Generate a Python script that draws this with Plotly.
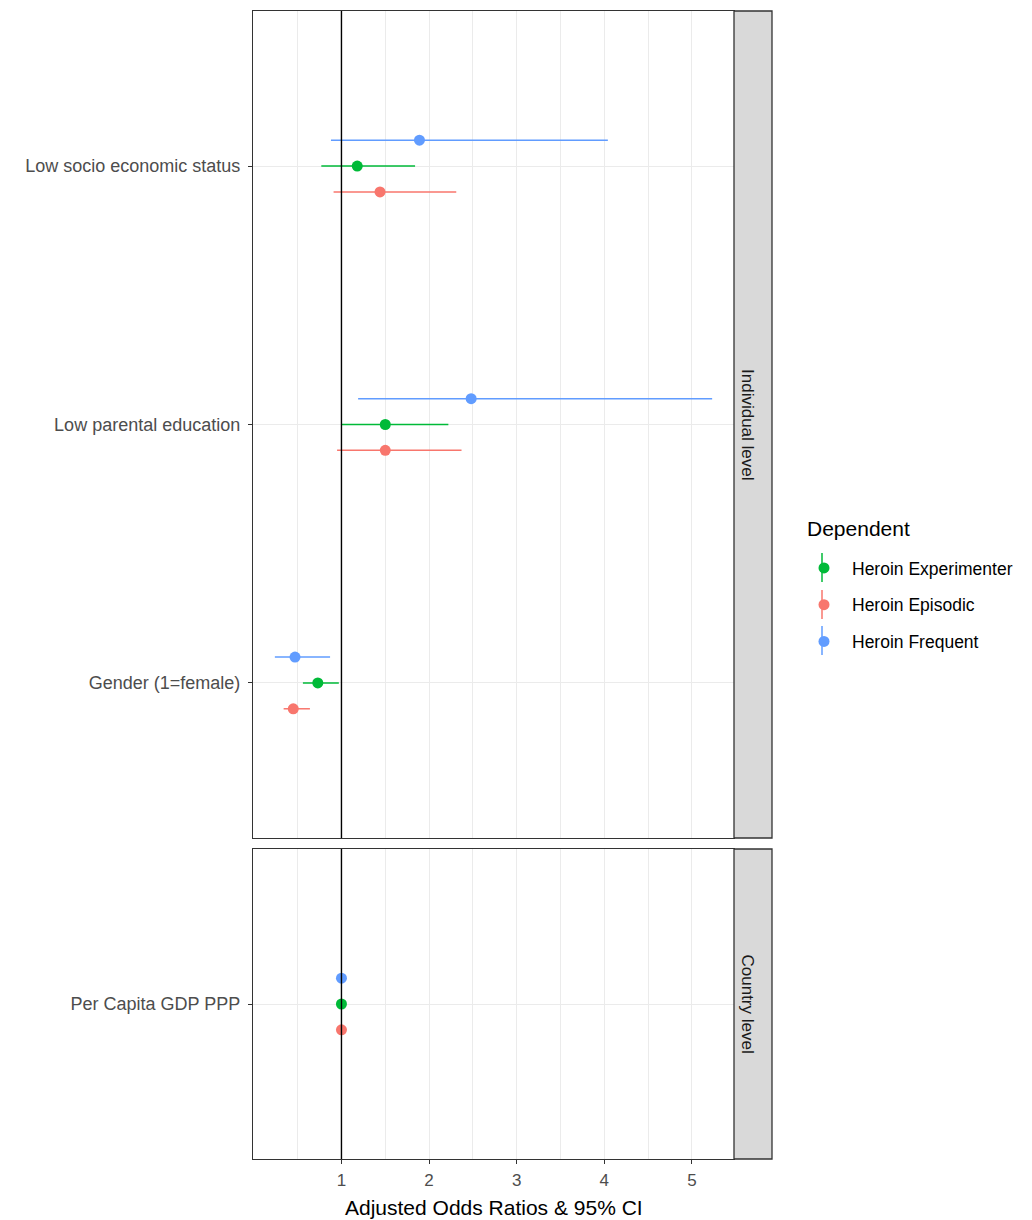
import plotly.graph_objects as go

# Model terms, ordered bottom-to-top within each facet
individual_terms = ["Gender (1=female)", "Low parental education", "Low socio economic status"]
country_terms = ["Per Capita GDP PPP"]
facet_labels = ["Individual level", "Country level"]

# Adjusted odds ratios and 95% CI: first three rows individual level, last row country level
dependents = ["Heroin Experimenter", "Heroin Episodic", "Heroin Frequent"]

exp_or = [0.73, 1.50, 1.18, 1.00]
exp_lo = [0.56, 1.00, 0.77, 0.99]
exp_hi = [0.97, 2.22, 1.84, 1.01]

epi_or = [0.45, 1.50, 1.44, 1.00]
epi_lo = [0.34, 0.95, 0.91, 0.99]
epi_hi = [0.64, 2.37, 2.31, 1.01]

fre_or = [0.47, 2.48, 1.89, 1.00]
fre_lo = [0.24, 1.19, 0.88, 0.99]
fre_hi = [0.87, 5.23, 4.04, 1.01]

x_ticks = [1, 2, 3, 4, 5]

colors = {"Heroin Experimenter": "#00BA38", "Heroin Episodic": "#F8766D", "Heroin Frequent": "#619CFF"}
dodge = {"Heroin Experimenter": 0.0, "Heroin Episodic": -0.1, "Heroin Frequent": 0.1}
series = {
    "Heroin Experimenter": (exp_or, exp_lo, exp_hi),
    "Heroin Episodic": (epi_or, epi_lo, epi_hi),
    "Heroin Frequent": (fre_or, fre_lo, fre_hi),
}

FONT = "Liberation Sans, Arial, sans-serif"
GRID = "#EBEBEB"
BORDER = "#333333"
n_ind = len(individual_terms)

fig = go.Figure()
for dep in dependents:
    est, lo, hi = series[dep]
    panels = [
        ("x", "y", slice(0, n_ind), len(individual_terms)),
        ("x2", "y2", slice(n_ind, None), len(country_terms)),
    ]
    for i, (xa, ya, sl, n) in enumerate(panels):
        e, l, h = est[sl], lo[sl], hi[sl]
        ypos = [k + 1 + dodge[dep] for k in range(n)]
        fig.add_trace(go.Scatter(
            x=e, y=ypos, xaxis=xa, yaxis=ya,
            mode="markers",
            name=dep, legendgroup=dep, showlegend=(i == 0),
            marker=dict(color=colors[dep], size=11),
            error_x=dict(type="data", symmetric=False,
                         array=[hh - ee for hh, ee in zip(h, e)],
                         arrayminus=[ee - ll for ee, ll in zip(e, l)],
                         color=colors[dep], thickness=1.5, width=0),
        ))

all_lo = exp_lo + epi_lo + fre_lo
all_hi = exp_hi + epi_hi + fre_hi
span = max(all_hi) - min(all_lo)
x_range = [min(all_lo) - 0.05 * span, max(all_hi) + 0.05 * span]
minor_vals = [t - 0.5 for t in x_ticks] + [x_ticks[-1] + 0.5]

# Plot area in pixels: x 253..734, panels y 11..838 and 849..1159
W, H = 1032, 1220
L, R, T, B = 253, 1032 - 734, 11, 1220 - 1159
ph = H - T - B
pw = W - L - R
top_dom = [(1159 - 838) / ph, 1.0]
bot_dom = [0.0, (1159 - 849) / ph]


def px_x(px):
    return (px - L) / pw


def px_y(py):
    return (H - B - py) / ph


xcommon = dict(
    range=x_range, tickvals=x_ticks, showgrid=True, gridcolor=GRID, gridwidth=1.1,
    minor=dict(tickvals=minor_vals, showgrid=True, gridcolor=GRID, gridwidth=0.8),
    showline=True, mirror=True, linecolor=BORDER, linewidth=1.3, zeroline=False,
)
ycommon = dict(
    showgrid=True, gridcolor=GRID, gridwidth=1.1, zeroline=False,
    showline=True, mirror=True, linecolor=BORDER, linewidth=1.3,
    ticks="outside", ticklen=4, tickcolor=BORDER, tickwidth=1.1,
    tickfont=dict(size=18, color="#4D4D4D", family=FONT), ticklabelstandoff=4,
)

fig.update_layout(
    width=W, height=H,
    margin=dict(l=L, r=R, t=T, b=B),
    paper_bgcolor="white", plot_bgcolor="white",
    font=dict(family=FONT),
    xaxis=dict(domain=[0, 1], anchor="y", showticklabels=False, ticks="", **xcommon),
    xaxis2=dict(domain=[0, 1], anchor="y2", matches="x", ticks="outside", ticklen=4,
                tickcolor=BORDER, tickwidth=1.1, ticklabelstandoff=1, automargin=False,
                tickfont=dict(size=17, color="#4D4D4D", family=FONT),
                **xcommon),
    yaxis=dict(domain=top_dom, anchor="x", range=[0.4, len(individual_terms) + 0.6],
               tickvals=list(range(1, len(individual_terms) + 1)), ticktext=individual_terms,
               **ycommon),
    yaxis2=dict(domain=bot_dom, anchor="x2", range=[0.4, len(country_terms) + 0.6],
                tickvals=list(range(1, len(country_terms) + 1)), ticktext=country_terms,
                **ycommon),
    legend=dict(
        font=dict(size=17.5, color="black", family=FONT),
        x=px_x(796), xanchor="left", y=px_y(550), yanchor="top",
        tracegroupgap=11, itemwidth=46, bgcolor="rgba(0,0,0,0)",
    ),
)

# Axis title and legend heading
fig.add_annotation(text="Adjusted Odds Ratios & 95% CI", xref="paper", yref="paper",
                   x=0.5, y=px_y(1207), xanchor="center", yanchor="middle",
                   showarrow=False, font=dict(size=21, color="black", family=FONT))
fig.add_annotation(text="Dependent", xref="paper", yref="paper",
                   x=px_x(805), y=px_y(528), xanchor="left", yanchor="middle",
                   showarrow=False, font=dict(size=21, color="black", family=FONT))

# Vertical whisker through each legend key (pointrange glyph)
key_x = px_x(822)
key_centres = [568, 605, 641]
for dep, cy in zip(dependents, key_centres):
    fig.add_shape(type="line", xref="paper", yref="paper",
                  x0=key_x, x1=key_x, y0=px_y(cy - 15), y1=px_y(cy + 14),
                  line=dict(color=colors[dep], width=1.5))

# Reference line at OR = 1 in both facets, plus facet strips on the right
strip_w = 38 / pw
for ya in ["y", "y2"]:
    fig.add_shape(type="line", xref="x" if ya == "y" else "x2", yref=f"{ya} domain",
                  x0=1, x1=1, y0=0, y1=1, line=dict(color="black", width=1.4), layer="above")
    fig.add_shape(type="rect", xref="paper", yref=f"{ya} domain",
                  x0=1, x1=1 + strip_w, y0=0, y1=1,
                  fillcolor="#D9D9D9", line=dict(color=BORDER, width=1.3), layer="above")

for ya, label in zip(["y", "y2"], facet_labels):
    fig.add_annotation(text=label, xref="paper", yref=f"{ya} domain",
                       x=1 + strip_w / 2, y=0.5, showarrow=False, textangle=90,
                       xshift=6, font=dict(size=17, color="#1A1A1A", family=FONT))

fig.write_html("out.html")
